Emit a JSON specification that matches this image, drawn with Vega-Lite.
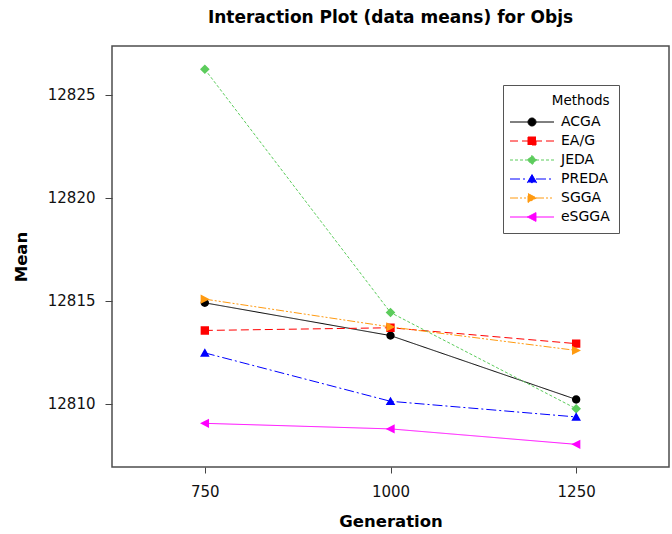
{
  "$schema": "https://vega.github.io/schema/vega-lite/v6.json",
  "width": 557,
  "height": 421,
  "autosize": "none",
  "padding": {"left": 112, "top": 46, "right": 3, "bottom": 67},
  "background": "white",
  "title": {"text": "Interaction Plot (data means) for Objs", "font": "DejaVu Sans", "fontSize": 17, "fontWeight": "bold", "color": "#000", "anchor": "middle", "offset": 19},
  "config": {
    "view": {"stroke": "#4d4d4d", "strokeWidth": 1.5},
    "axis": {"grid": false, "domain": false, "labelFont": "DejaVu Sans", "labelFontSize": 15, "labelColor": "#111", "titleFont": "DejaVu Sans", "titleFontSize": 16.5, "titleFontWeight": "bold", "titleColor": "#000", "tickColor": "#444", "tickWidth": 1},
    "legend": {"symbolFillColor": "#000000", "symbolStrokeColor": "#000000", "symbolStrokeWidth": 1}
  },
  "data": {"values": [
    {"Method": "ACGA", "Generation": 750, "Mean": 12814.89},
    {"Method": "ACGA", "Generation": 1000, "Mean": 12813.30},
    {"Method": "ACGA", "Generation": 1250, "Mean": 12810.20},
    {"Method": "EA/G", "Generation": 750, "Mean": 12813.55},
    {"Method": "EA/G", "Generation": 1000, "Mean": 12813.68},
    {"Method": "EA/G", "Generation": 1250, "Mean": 12812.91},
    {"Method": "JEDA", "Generation": 750, "Mean": 12826.23},
    {"Method": "JEDA", "Generation": 1000, "Mean": 12814.42},
    {"Method": "JEDA", "Generation": 1250, "Mean": 12809.75},
    {"Method": "PREDA", "Generation": 750, "Mean": 12812.46},
    {"Method": "PREDA", "Generation": 1000, "Mean": 12810.11},
    {"Method": "PREDA", "Generation": 1250, "Mean": 12809.35},
    {"Method": "SGGA", "Generation": 750, "Mean": 12815.07},
    {"Method": "SGGA", "Generation": 1000, "Mean": 12813.72},
    {"Method": "SGGA", "Generation": 1250, "Mean": 12812.58},
    {"Method": "eSGGA", "Generation": 750, "Mean": 12809.04},
    {"Method": "eSGGA", "Generation": 1000, "Mean": 12808.77},
    {"Method": "eSGGA", "Generation": 1250, "Mean": 12808.02}
  ]},
  "encoding": {
    "x": {"field": "Generation", "type": "quantitative", "scale": {"domain": [625, 1375], "nice": false, "zero": false}, "axis": {"values": [750, 1000, 1250], "format": "d", "title": "Generation", "tickSize": 6, "labelPadding": 11, "titlePadding": 14}},
    "y": {"field": "Mean", "type": "quantitative", "scale": {"domain": [12806.92, 12827.36], "nice": false, "zero": false}, "axis": {"values": [12810, 12815, 12820, 12825], "format": "d", "title": "Mean", "tickSize": 7, "labelPadding": 10, "titlePadding": 18}},
    "color": {"field": "Method", "type": "nominal", "scale": {"domain": ["ACGA", "EA/G", "JEDA", "PREDA", "SGGA", "eSGGA"], "range": ["#000000", "#ff0000", "#5ccc5c", "#0000ff", "#ff9a10", "#ff00ff"]}, "legend": {
          "title": "Methods", "orient": "none", "legendX": 391, "legendY": 39,
          "strokeColor": "#555", "fillColor": "white", "padding": 8.5,
          "titleFont": "DejaVu Sans", "titleFontSize": 13.5, "titleFontWeight": "normal", "titleColor": "#000", "titleAnchor": "end", "titlePadding": 8,
          "labelFont": "DejaVu Sans", "labelFontSize": 14, "labelColor": "#000", "labelOffset": 22,
          "symbolSize": 64, "symbolOffset": 13.5, "symbolStrokeWidth": 1, "rowPadding": 5
        }}
  },
  "layer": [
    {
      "mark": {"type": "line", "strokeWidth": 1},
      "encoding": {
        "strokeDash": {"field": "Method", "type": "nominal", "legend": null, "scale": {"domain": ["ACGA", "EA/G", "JEDA", "PREDA", "SGGA", "eSGGA"], "range": [[1, 0], [8, 4], [3, 2], [10, 3, 2, 3], [8, 2, 2, 2, 2, 2], [1, 0]]}}
      }
    },
    {
      "mark": {"type": "point", "filled": false, "opacity": 1, "size": 70, "strokeWidth": 0},
      "encoding": {
        "fill": {"field": "Method", "type": "nominal", "scale": {"domain": ["ACGA", "EA/G", "JEDA", "PREDA", "SGGA", "eSGGA"], "range": ["#000000", "#ff0000", "#5ccc5c", "#0000ff", "#ff9a10", "#ff00ff"]}, "legend": {"title": "Methods"}},
        "shape": {"field": "Method", "type": "nominal", "scale": {"domain": ["ACGA", "EA/G", "JEDA", "PREDA", "SGGA", "eSGGA"], "range": [
          "M-5.5,0H-1M1,0H5.5M1,0A1,1,0,1,1,-1,0A1,1,0,1,1,1,0Z",
          "M-5.5,0H-3.5M-2.5,0H-1M1,0H2.5M3.5,0H5.5M-1,-1H1V1H-1Z",
          "M-5.5,0H-4.75M-4.25,0H-3.5M-3,0H-2.25M-1.75,0H-1M1,0H1.75M2.25,0H3M3.5,0H4.25M4.75,0H5.5M0,-1.15L1.15,0L0,1.15L-1.15,0Z",
          "M-5.5,0H-1M1,0H5.5M0,-1.1L1.15,0.9H-1.15Z",
          "M-5.5,0H-1M1,0H5.5M-1,-1.1L1.15,0L-1,1.1Z",
          "M-5.5,0H-1M1,0H5.5M1,-1.1L-1.15,0L1,1.1Z"
        ]}, "legend": {"title": "Methods"}}
      }
    }
  ]
}
